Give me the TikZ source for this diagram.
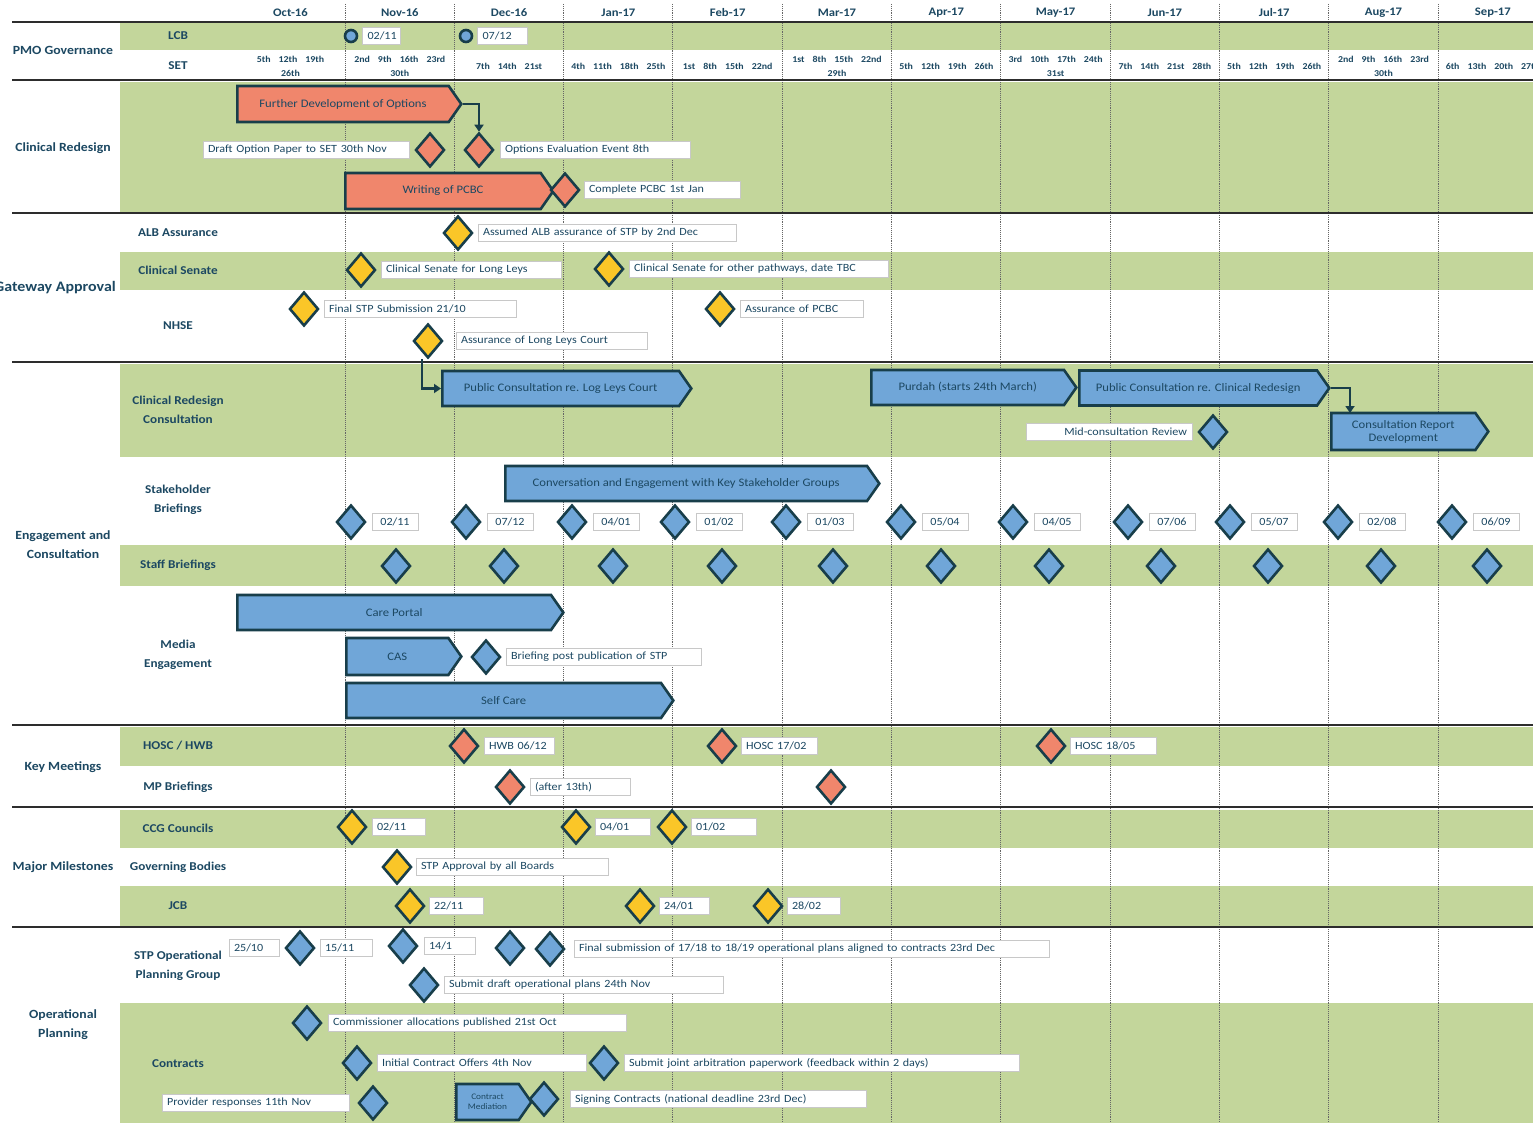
\documentclass[tikz,border=0pt]{standalone}
\usepackage{fontspec}
\setmainfont{Carlito}[FakeStretch=1.1]
\usepackage{xcolor}
\usepackage{tikz}
\usetikzlibrary{positioning}
\usetikzlibrary{shapes.geometric,shapes.symbols,arrows.meta}

\definecolor{rowgreen}{RGB}{195,214,155}
\definecolor{txtc}{RGB}{28,72,98}
\definecolor{dkc}{RGB}{24,62,74}
\definecolor{msblue}{RGB}{112,166,216}
\definecolor{mssalmon}{RGB}{240,134,108}
\definecolor{msyellow}{RGB}{250,198,40}
\definecolor{boxc}{RGB}{200,200,200}
\definecolor{sepc}{RGB}{45,45,45}

\newcommand{\wg}{\hspace{8pt}}

\tikzset{
  rowbg/.style={fill=rowgreen},
  sepline/.style={draw=sepc, line width=2.5pt},
  mline/.style={draw=black!60, densely dotted, line width=0.9pt},
  catlbl/.style={text=txtc, font=\bfseries\fontsize{12.5}{19}\selectfont, align=center},
  sublbl/.style={text=txtc, font=\bfseries\fontsize{12}{19}\selectfont, align=center},
  monthlbl/.style={text=txtc, font=\bfseries\fontsize{11.5}{13}\selectfont},
  wklbl/.style={text=txtc, font=\bfseries\fontsize{9}{14}\selectfont, align=center},
  mstone/.style={diamond, draw=dkc, line width=2.6pt, minimum width=29, minimum height=34, inner sep=0pt},
  msb/.style={mstone, fill=msblue},
  mss/.style={mstone, fill=mssalmon},
  msy/.style={mstone, fill=msyellow},
  gbar/.style={signal, signal to=east, signal pointer angle=110, draw=dkc, line width=2.6pt, anchor=west,
    text=txtc, font=\fontsize{11.5}{13}\selectfont, align=center, inner sep=0pt, minimum height=36},
  lbl/.style={draw=boxc, fill=white, text=txtc, font=\fontsize{11}{12}\selectfont,
    text width=#1, align=left, inner xsep=5pt, inner ysep=1pt, minimum height=17},
  dlbl/.style={lbl=#1, align=center},
  lcbmark/.style={circle, draw=dkc, fill=msblue, line width=2.6pt, minimum size=12, inner sep=0pt},
  conn/.style={draw=dkc, line width=2.2pt, -{Triangle[length=7pt,width=9pt]}},
}

\begin{document}
\begin{tikzpicture}[x=1pt,y=-1pt]
    \fill[white] (0,0) rectangle (1533,1123);
    \useasboundingbox (0,0) rectangle (1533,1123);

    \foreach \ya/\yb in {22/50, 82/213, 252/290, 364/457, 545/586, 727/766, 810/848, 886/926, 1003/1123}
        \fill[rowbg] (120,\ya) rectangle (1533,\yb);
    \foreach \k in {0,...,10}
        \draw[mline] ({345+109.3*\k},4) -- ({345+109.3*\k},1123);
    \foreach \y in {22,80,213,362,725,807,927}
        \draw[sepline] (12,\y) -- (1533,\y);

    \foreach \m [count=\k from 0] in {Oct-16,Nov-16,Dec-16,Jan-17,Feb-17,Mar-17,Apr-17,May-17,Jun-17,Jul-17,Aug-17,Sep-17}
        \node[monthlbl] (mo\k) at ({290.5+109.3*\k},13) {\m};

    \node[wklbl] (wk0) at (290.5,66) {5th\wg 12th\wg 19th\\26th};
    \node[wklbl] (wk1) at (399.8,66) {2nd\wg 9th\wg 16th\wg 23rd\\30th};
    \node[wklbl] (wk2) at (509.1,66) {7th\wg 14th\wg 21st};
    \node[wklbl] (wk3) at (618.4,66) {4th\wg 11th\wg 18th\wg 25th};
    \node[wklbl] (wk4) at (727.7,66) {1st\wg 8th\wg 15th\wg 22nd};
    \node[wklbl] (wk5) at (837.0,66) {1st\wg 8th\wg 15th\wg 22nd\\29th};
    \node[wklbl] (wk6) at (946.3,66) {5th\wg 12th\wg 19th\wg 26th};
    \node[wklbl] (wk7) at (1055.6,66) {3rd\wg 10th\wg 17th\wg 24th\\31st};
    \node[wklbl] (wk8) at (1164.9,66) {7th\wg 14th\wg 21st\wg 28th};
    \node[wklbl] (wk9) at (1274.2,66) {5th\wg 12th\wg 19th\wg 26th};
    \node[wklbl] (wk10) at (1383.5,66) {2nd\wg 9th\wg 16th\wg 23rd\\30th};
    \node[wklbl] (wk11) at (1492.8,66) {6th\wg 13th\wg 20th\wg 27th};

    \node[catlbl] (pmo) at (63,50) {PMO Governance};
    \node[catlbl] (clr) at (63,148) {Clinical Redesign};
    \node[catlbl, font=\bfseries\fontsize{14.5}{19}\selectfont] (gwa) at (55,288) {Gateway Approval};
    \node[catlbl] (eac) at (63,545) {Engagement and\\Consultation};
    \node[catlbl] (kmt) at (63,767) {Key Meetings};
    \node[catlbl] (mjm) at (63,867) {Major Milestones};
    \node[catlbl] (opl) at (63,1025) {Operational\\Planning};

    \node[sublbl] (s-lcb) at (178,36) {LCB};
    \node[sublbl] (s-set) at (178,66) {SET};
    \node[sublbl] (s-alb) at (178,233) {ALB Assurance};
    \node[sublbl] (s-cls) at (178,270) {Clinical Senate};
    \node[sublbl] (s-nhs) at (178,326) {NHSE};
    \node[sublbl] (s-crc) at (178,410) {Clinical Redesign\\Consultation};
    \node[sublbl] (s-stk) at (178,500) {Stakeholder\\Briefings};
    \node[sublbl] (s-stf) at (178,565) {Staff Briefings};
    \node[sublbl] (s-med) at (178,655) {Media\\Engagement};
    \node[sublbl] (s-hos) at (178,746) {HOSC / HWB};
    \node[sublbl] (s-mpb) at (178,787) {MP Briefings};
    \node[sublbl] (s-ccg) at (178,828) {CCG Councils};
    \node[sublbl] (s-gov) at (178,867) {Governing Bodies};
    \node[sublbl] (s-jcb) at (178,906) {JCB};
    \node[sublbl] (s-stp) at (178,966) {STP Operational\\Planning Group};
    \node[sublbl] (s-con) at (178,1064) {Contracts};

    \node[lcbmark] (lcb1) at (351,36) {};
    \node[lbl=28, right=4pt of lcb1] (lcb1t) {02/11};
    \node[lcbmark] (lcb2) at (466,36) {};
    \node[lbl=40, right=4pt of lcb2] (lcb2t) {07/12};

    \node[gbar, fill=mssalmon, minimum width=224] (fdo) at (236,104) {Further Development of Options};
    \node[gbar, fill=mssalmon, minimum width=208] (wpc) at (344,191) {Writing of PCBC};
    \node[mss] (dop) at (430,150) {};
    \node[lbl=196, left=5pt of dop] (dopt) {Draft Option Paper to SET 30th Nov};
    \node[mss] (oee) at (479,150) {};
    \node[lbl=180, right=5pt of oee] (oeet) {Options Evaluation Event 8th};
    \node[mss] (cpc) at (565,190) {};
    \node[lbl=146, right=3pt of cpc] (cpct) {Complete PCBC 1st Jan};
    \draw[conn] (fdo.east) -| (oee.north);

    \node[msy] (alb) at (458,233) {};
    \node[lbl=248, right=4pt of alb] (albt) {Assumed ALB assurance of STP by 2nd Dec};
    \node[msy] (cs1) at (361,270) {};
    \node[lbl=170, right=4pt of cs1] (cs1t) {Clinical Senate for Long Leys};
    \node[msy] (cs2) at (609,269) {};
    \node[lbl=249, right=4pt of cs2] (cs2t) {Clinical Senate for other pathways, date TBC};
    \node[msy] (fss) at (304,309) {};
    \node[lbl=182, right=4pt of fss] (fsst) {Final STP Submission 21/10};
    \node[msy] (apc) at (720,309) {};
    \node[lbl=113, right=4pt of apc] (apct) {Assurance of PCBC};
    \node[msy] (llc) at (428,341) {};
    \node[lbl=181, right=12pt of llc] (llct) {Assurance of Long Leys Court};

    \node[gbar, fill=msblue, minimum width=249, minimum height=35] (pcl) at (441,388.5) {Public Consultation re. Log Leys Court};
    \node[gbar, fill=msblue, minimum width=205, minimum height=35] (pur) at (870,387.5) {Purdah (starts 24th March)};
    \node[gbar, fill=msblue, minimum width=250, minimum height=35] (pcr) at (1078,388) {Public Consultation re. Clinical Redesign};
    \node[gbar, fill=msblue, minimum width=157, minimum height=37] (crd) at (1330,431.5) {Consultation Report\\Development};
    \coordinate (crdin) at (1350,413);
    \draw[conn] ([xshift=-6pt]llc.south) |- (pcl.west);
    \draw[conn] (pcr.east) -| (crdin);
    \node[msb] (mcr) at (1213,432) {};
    \node[lbl=156, left=5pt of mcr, align=right] (mcrt) {Mid-consultation Review};

    \node[gbar, fill=msblue, minimum width=374, minimum height=35] (ces) at (504,483.5) {Conversation and Engagement with Key Stakeholder Groups};
    \foreach \x/\dd/\mm [count=\i] in {351/02/11, 466/07/12, 572/04/01, 675/01/02, 786/01/03, 901/05/04, 1013/04/05, 1128/07/06, 1230/05/07, 1338/02/08, 1452/06/09}{
        \node[msb] (sb\i) at (\x,522) {};
        \node[dlbl=36, right=5pt of sb\i] (sbt\i) {\dd/\mm};
    }
    \foreach \x [count=\i] in {396,504,613,722,833,941,1049,1161,1268,1381,1487}
        \node[msb] (stb\i) at (\x,566) {};

    \node[gbar, fill=msblue, minimum width=326, minimum height=35] (cpo) at (236,612.5) {Care Portal};
    \node[gbar, fill=msblue, minimum width=115, minimum height=37] (cas) at (345,656.5) {CAS};
    \node[gbar, fill=msblue, minimum width=327, minimum height=35] (sca) at (345,700.5) {Self Care};
    \node[msb] (bpp) at (486,657) {};
    \node[lbl=185, right=4pt of bpp] (bppt) {Briefing post publication of STP};

    \node[mss] (hw1) at (464,746) {};
    \node[lbl=60, right=4pt of hw1] (hw1t) {HWB 06/12};
    \node[mss] (hw2) at (722,746) {};
    \node[lbl=66, right=3pt of hw2] (hw2t) {HOSC 17/02};
    \node[mss] (hw3) at (1051,746) {};
    \node[lbl=76, right=3pt of hw3] (hw3t) {HOSC 18/05};
    \node[mss] (mp1) at (510,787) {};
    \node[lbl=90, right=4pt of mp1] (mp1t) {(after 13th)};
    \node[mss] (mp2) at (831,787) {};

    \node[msy] (cc1) at (352,827) {};
    \node[lbl=43, right=4pt of cc1] (cc1t) {02/11};
    \node[msy] (cc2) at (576,827) {};
    \node[lbl=45, right=3pt of cc2] (cc2t) {04/01};
    \node[msy] (cc3) at (672,827) {};
    \node[lbl=55, right=3pt of cc3] (cc3t) {01/02};
    \node[msy] (gvb) at (397,867) {};
    \node[lbl=182, right=3pt of gvb] (gvbt) {STP Approval by all Boards};
    \node[msy] (jc1) at (410,906) {};
    \node[lbl=44, right=3pt of jc1] (jc1t) {22/11};
    \node[msy] (jc2) at (640,906) {};
    \node[lbl=40, right=3pt of jc2] (jc2t) {24/01};
    \node[msy] (jc3) at (768,906) {};
    \node[lbl=43, right=3pt of jc3] (jc3t) {28/02};

    \node[msb] (op1) at (300,948) {};
    \node[lbl=40, left=5pt of op1] (op1t) {25/10};
    \node[lbl=42, right=4pt of op1] (op1u) {15/11};
    \node[msb] (op2) at (403,946) {};
    \node[lbl=41, right=5pt of op2] (op2t) {14/1};
    \node[msb] (op3) at (510,948) {};
    \node[msb] (op4) at (550,949) {};
    \node[lbl=465, right=8pt of op4] (op4t) {Final submission of 17/18 to 18/19 operational plans aligned to contracts 23rd Dec};
    \node[msb] (op5) at (424,985) {};
    \node[lbl=269, right=4pt of op5] (op5t) {Submit draft operational plans 24th Nov};

    \node[msb] (cal) at (307,1023) {};
    \node[lbl=288, right=5pt of cal] (calt) {Commissioner allocations published 21st Oct};
    \node[msb] (ico) at (357,1063) {};
    \node[lbl=199, right=4pt of ico] (icot) {Initial Contract Offers 4th Nov};
    \node[msb] (sja) at (604,1063) {};
    \node[lbl=385, right=4pt of sja] (sjat) {Submit joint arbitration paperwork (feedback within 2 days)};
    \node[msb] (prr) at (373,1103) {};
    \node[lbl=177, left=8pt of prr] (prrt) {Provider responses 11th Nov};
    \node[gbar, fill=msblue, minimum width=75, font=\fontsize{8.5}{9.5}\selectfont] (cme) at (455,1102) {Contract\\Mediation};
    \node[msb] (sgc) at (544,1099) {};
    \node[lbl=286, right=10pt of sgc] (sgct) {Signing Contracts (national deadline 23rd Dec)};
\end{tikzpicture}
\end{document}
